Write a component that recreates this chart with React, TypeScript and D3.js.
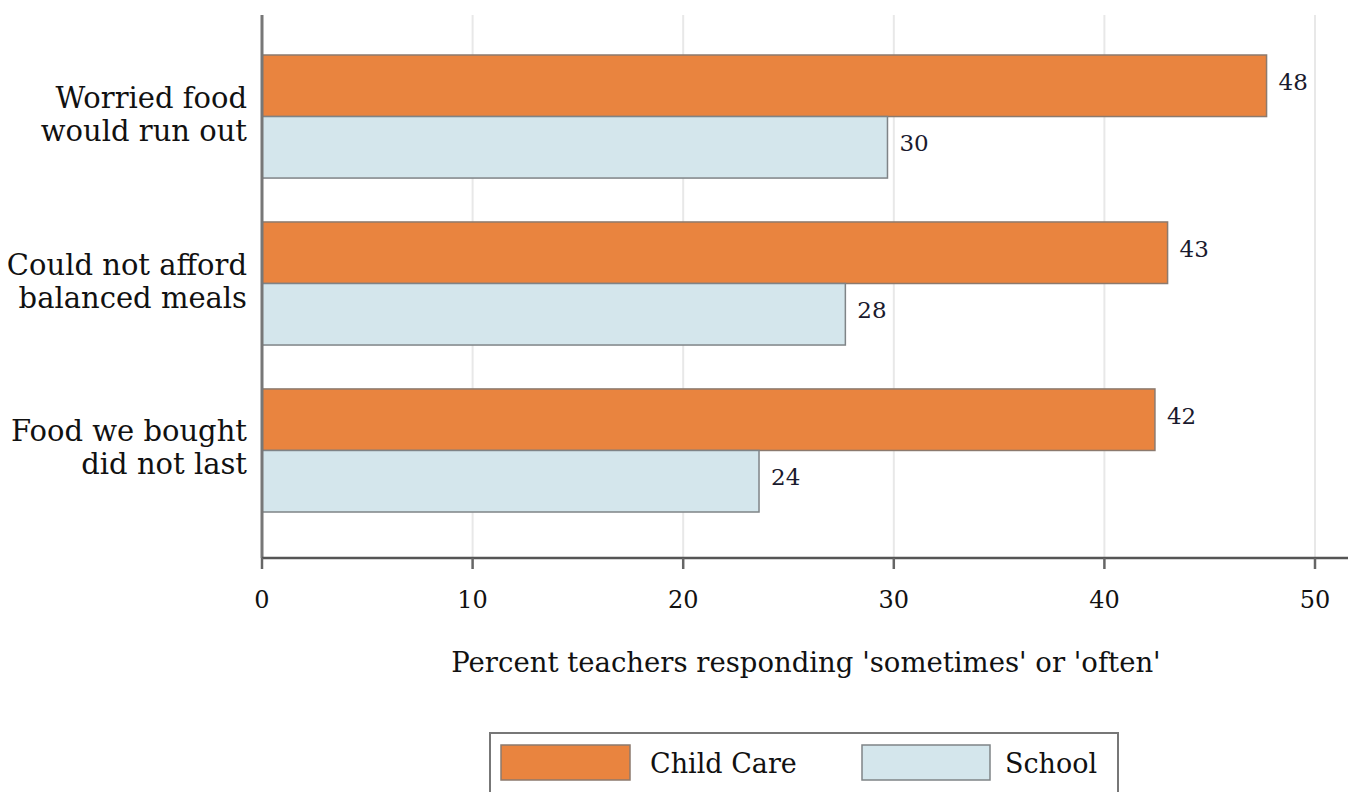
import React from "react";
import * as d3 from "d3";

const categories = ["Worried food|would run out", "Could not afford|balanced meals", "Food we bought|did not last"];
const childCare = [47.7, 43.0, 42.4];
const school = [29.7, 27.7, 23.6];
const childCareLabels = ["48", "43", "42"];
const schoolLabels = ["30", "28", "24"];
const xTicks = [0, 10, 20, 30, 40, 50];
const seriesNames = ["Child Care", "School"];

const W = 1354;
const H = 792;
const FONT = "'DejaVu Serif', 'Liberation Serif', serif";
const ORANGE = "#E9843F";
const BLUE = "#D4E6EC";

export default function App() {
  const left = 262;
  const x = d3.scaleLinear().domain([0, 50]).range([left, 1315]);
  const plotTop = 15;
  const axisY = 558;
  const y = d3.scaleBand<number>().domain([0, 1, 2]).range([55, 512]).paddingInner(0.263).paddingOuter(0);
  const bw = y.bandwidth();

  return (
    <svg width={W} height={H} style={{ position: "absolute", left: 0, top: 0, background: "#fff" }} fontFamily={FONT}>
      <rect x={0} y={0} width={W} height={H} fill="#fff" />
      {xTicks.filter((t) => t > 0).map((t) => (
        <line key={t} x1={x(t)} x2={x(t)} y1={plotTop} y2={axisY} stroke="#e8e8e8" strokeWidth={2} />
      ))}
      {categories.map((c, i) => {
        const y0 = y(i)!;
        const h = bw / 2;
        const cy = y0 + h;
        const lines = c.split("|");
        return (
          <g key={c}>
            <rect x={x(0)} y={y0} width={x(childCare[i]) - x(0)} height={h} fill={ORANGE} stroke="#8c7a6e" strokeWidth={1.5} />
            <rect x={x(0)} y={y0 + h} width={x(school[i]) - x(0)} height={h} fill={BLUE} stroke="#7f8487" strokeWidth={1.5} />
            <text x={x(childCare[i]) + 12} y={y0 + h / 2 + 4} fontSize={23} fill="#1a1a2e">{childCareLabels[i]}</text>
            <text x={x(school[i]) + 12} y={y0 + h * 1.5 + 4} fontSize={23} fill="#1a1a2e">{schoolLabels[i]}</text>
            <text x={247} y={cy - 9} textAnchor="end" fontSize={29} fill="#111">{lines[0]}</text>
            <text x={247} y={cy + 24} textAnchor="end" fontSize={29} fill="#111">{lines[1]}</text>
          </g>
        );
      })}
      <line x1={left} x2={left} y1={plotTop} y2={axisY} stroke="#777" strokeWidth={3} />
      <line x1={left} x2={1348} y1={axisY} y2={axisY} stroke="#555" strokeWidth={2.5} />
      {xTicks.map((t) => (
        <g key={t}>
          <line x1={x(t)} x2={x(t)} y1={axisY} y2={axisY + 11} stroke="#666" strokeWidth={2.5} />
          <text x={x(t)} y={608} textAnchor="middle" fontSize={24} fill="#111">{t}</text>
        </g>
      ))}
      <text x={806} y={672} textAnchor="middle" fontSize={27.5} fill="#111">Percent teachers responding 'sometimes' or 'often'</text>
      <rect x={490} y={733} width={628} height={62} fill="#fff" stroke="#777" strokeWidth={2} />
      <rect x={501} y={745} width={129} height={35} fill={ORANGE} stroke="#8c7a6e" strokeWidth={1.5} />
      <text x={650} y={773} fontSize={27} fill="#111">{seriesNames[0]}</text>
      <rect x={862} y={745} width={128} height={35} fill={BLUE} stroke="#7f8487" strokeWidth={1.5} />
      <text x={1005} y={773} fontSize={27} fill="#111">{seriesNames[1]}</text>
    </svg>
  );
}
